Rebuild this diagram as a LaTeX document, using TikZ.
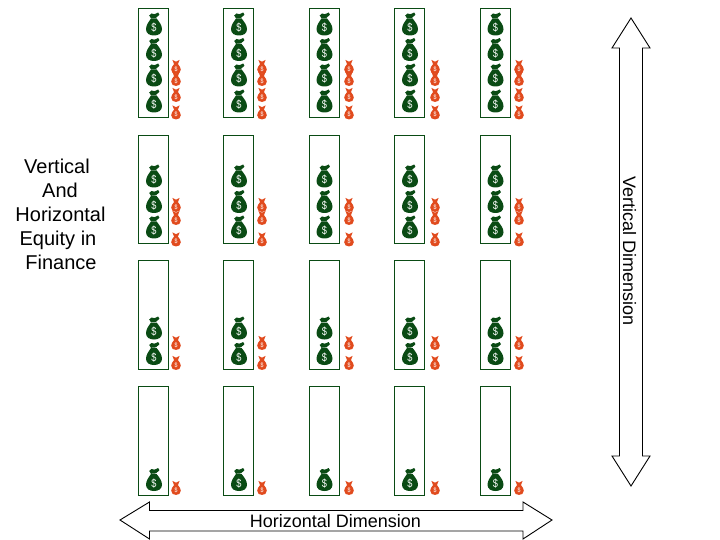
\documentclass[tikz,border=0pt]{standalone}
\usepackage{fontspec}
\setmainfont{Liberation Sans}
\definecolor{bigbag}{RGB}{10,75,20}
\definecolor{smallbag}{RGB}{225,75,30}
\tikzset{
  x=1bp,y=-1bp,
  cell/.style={draw=bigbag,line width=0.8bp},
  bigarrow/.style={draw=black,line width=0.9bp,fill=white,line join=miter},
  lab/.style={font=\fontsize{18bp}{20bp}\selectfont,inner sep=0pt,text=black},
  sidelab/.style={font=\fontsize{20bp}{22bp}\selectfont,inner sep=0pt,text=black,anchor=base},
  dollar/.style={inner sep=0pt,text=white},
  pics/moneybag/.style={code={
    \fill[#1] (-4.8,-12) -- (-2.5,-14) .. controls (0,-13) .. (4.2,-15) -- (5.4,-12.8) -- (2,-9.6) -- (-3,-9.2) -- cycle;
    \fill[#1] (-3,-9) -- (2.6,-9) .. controls (5.8,-5) and (8,-2) .. (8,1.8)
       .. controls (8,6.2) and (4,8) .. (0,8)
       .. controls (-4,8) and (-8,6.2) .. (-8,1.8)
       .. controls (-8,-2) and (-5.8,-5) .. (-3,-9) -- cycle;
    \node[dollar,font=\fontsize{11.5bp}{11.5bp}\selectfont,xscale=0.8] at (0,0.4) {\$};
  }},
  pics/smallmoneybag/.style={code={
    \fill[#1] (-3.6,-8.6) -- (0,-6.8) -- (3.6,-8.6) -- (1.8,-4) -- (-1.8,-4) -- cycle;
    \fill[#1] (-1.8,-4.6) -- (1.8,-4.6) .. controls (3.4,-2.6) and (4.8,-1) .. (4.8,1.2)
       .. controls (4.8,4.2) and (2.6,5.4) .. (0,5.4)
       .. controls (-2.6,5.4) and (-4.8,4.2) .. (-4.8,1.2)
       .. controls (-4.8,-1) and (-3.4,-2.6) .. (-1.8,-4.6) -- cycle;
    \node[dollar,font=\fontsize{6.5bp}{6.5bp}\selectfont,xscale=0.8] at (0,0.6) {\$};
  }},
}
\begin{document}
\begin{tikzpicture}
\useasboundingbox (0,0) rectangle (720,540);
% columns: rectangle left, small-bag x
\foreach \cx/\sx in {138.5/176,223.5/262,309/349,394.5/435,480/519}{
  \pgfmathsetmacro{\bx}{\cx+15.5}
  \foreach \ty/\by in {8/117,135/243,260.5/369,386.5/495}
    \draw[cell] (\cx,\ty) rectangle (\cx+30.3,\by);
  \foreach \y in {27.5,53,78.5,104.5, 179.5,205,230.5, 331.5,357, 483}
    \pic at (\bx,\y) {moneybag=bigbag};
  \foreach \y in {68.5,80.5,96.5,114, 206.5,219.5,241, 344.5,364.5, 489.5}
    \pic at (\sx,\y) {smallmoneybag=smallbag};
}
% double arrows
\draw[bigarrow] (120,520) -- (149.5,502) -- (149.5,510.5) -- (523,510.5) -- (523,502) -- (552,520)
  -- (523,539) -- (523,531) -- (149.5,531) -- (149.5,539) -- cycle;
\draw[bigarrow] (631,18) -- (650,48) -- (642.5,48) -- (642.5,456) -- (650,456) -- (631,486)
  -- (612,456) -- (619.5,456) -- (619.5,48) -- (612,48) -- cycle;
\node[lab] (hdim) at (335.5,521) {Horizontal Dimension};
\node[lab,rotate=-90] (vdim) at (629.5,251) {Vertical Dimension};
\node[sidelab] (l1) at (57,173.5) {Vertical};
\node[sidelab] (l2) at (60,197.5) {And};
\node[sidelab] (l3) at (60.5,221.5) {Horizontal};
\node[sidelab] (l4) at (58,245.5) {Equity in};
\node[sidelab] (l5) at (61,269.5) {Finance};
\end{tikzpicture}
\end{document}
